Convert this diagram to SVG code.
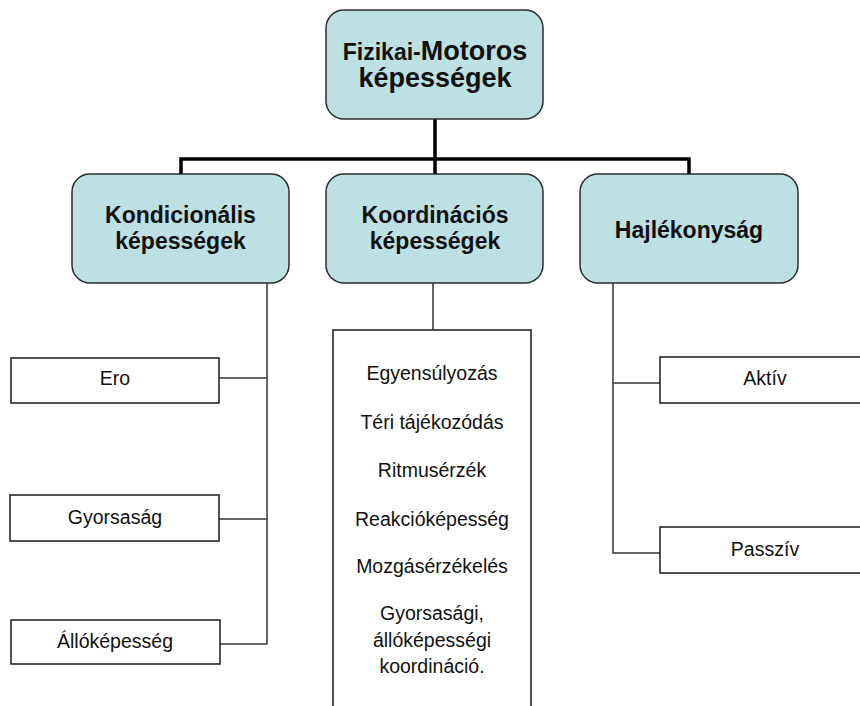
<svg xmlns="http://www.w3.org/2000/svg" width="860" height="706" viewBox="0 0 860 706">
<style>
.node{fill:#bde0e3;stroke:#2b2b2b;stroke-width:1.5}
.box{fill:#ffffff;stroke:#1a1a1a;stroke-width:1.5}
.h{font-family:"Liberation Sans",Arial,sans-serif;font-weight:bold;fill:#111;text-anchor:middle}
.t{font-family:"Liberation Sans",Arial,sans-serif;font-size:19.5px;fill:#111;text-anchor:middle}
.thick{stroke:#000;stroke-width:3.5;fill:none}
.thin{stroke:#333;stroke-width:1.5;fill:none}
</style>
<rect width="860" height="706" fill="#ffffff"/>
<g id="connectors">
<path class="thick" d="M435 119 V176 M181 176 V159 H689 V176"/>
<path class="thin" d="M267 283 V644 M219 378 H267 M219 519 H267 M220 644 H267"/>
<path class="thin" d="M433 283 V330"/>
<path class="thin" d="M613 283 V553 H660 M613 383 H660"/>
</g>
<g id="root">
<rect class="node" x="326" y="10" width="217" height="109" rx="18"/>
<text class="h" x="435" y="60"><tspan font-size="23px">Fizikai-</tspan><tspan font-size="27px">Motoros</tspan></text>
<text class="h" x="435" y="87" font-size="27px">képességek</text>
</g>
<g id="kondicionalis">
<rect class="node" x="72" y="174" width="217" height="109" rx="18"/>
<text class="h" x="180.5" y="223" font-size="23px">Kondicionális</text>
<text class="h" x="180.5" y="249" font-size="23px">képességek</text>
</g>
<g id="koordinacios">
<rect class="node" x="326" y="174" width="217" height="109" rx="18"/>
<text class="h" x="435" y="223" font-size="23px">Koordinációs</text>
<text class="h" x="435" y="249" font-size="23px">képességek</text>
</g>
<g id="hajlekonysag">
<rect class="node" x="580" y="174" width="218" height="109" rx="18"/>
<text class="h" x="689" y="238" font-size="23px">Hajlékonyság</text>
</g>
<g id="ero">
<rect class="box" x="11" y="358" width="208" height="45"/>
<text class="t" x="115" y="385">Ero</text>
</g>
<g id="gyorsasag">
<rect class="box" x="10" y="495" width="209" height="46"/>
<text class="t" x="115" y="524">Gyorsaság</text>
</g>
<g id="allokepesseg">
<rect class="box" x="11" y="620" width="209" height="44"/>
<text class="t" x="115" y="648">Állóképesség</text>
</g>
<g id="koord-list">
<rect class="box" x="333" y="330" width="198" height="390"/>
<text class="t" x="432" y="380">Egyensúlyozás</text>
<text class="t" x="432" y="429">Téri tájékozódás</text>
<text class="t" x="432" y="477">Ritmusérzék</text>
<text class="t" x="432" y="526">Reakcióképesség</text>
<text class="t" x="432" y="573">Mozgásérzékelés</text>
<text class="t" x="432" y="620">Gyorsasági,</text>
<text class="t" x="432" y="647">állóképességi</text>
<text class="t" x="432" y="673">koordináció.</text>
</g>
<g id="aktiv">
<rect class="box" x="660" y="357" width="220" height="46"/>
<text class="t" x="765" y="385">Aktív</text>
</g>
<g id="passziv">
<rect class="box" x="660" y="527" width="220" height="46"/>
<text class="t" x="765" y="556">Passzív</text>
</g>
</svg>
